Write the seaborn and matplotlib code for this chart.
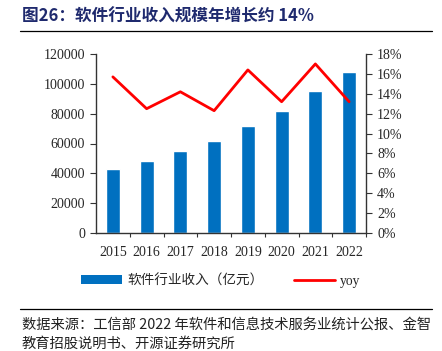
import numpy as np
import pandas as pd
import seaborn as sns
import matplotlib.pyplot as plt
from matplotlib.patches import Patch
from matplotlib.lines import Line2D
from matplotlib.ticker import FuncFormatter, MultipleLocator

### Data ###
years = ['2015', '2016', '2017', '2018', '2019', '2020', '2021', '2022']
revenue = [42848, 48232, 55037, 61909, 71768, 81616, 94994, 108126]  # 亿元
yoy = [15.7, 12.5, 14.2, 12.3, 16.4, 13.2, 17.0, 13.2]  # %

title = '图26：软件行业收入规模年增长约 14%'
source_lines = ['数据来源：工信部 2022 年软件和信息技术服务业统计公报、金智',
                '教育招股说明书、开源证券研究所']

sns.set_style('white')
plt.rcParams['font.family'] = ['Liberation Serif', 'Noto Sans CJK SC', 'DejaVu Sans']
cjk = ['Noto Sans CJK SC', 'DejaVu Sans']
serif_cjk = ['Liberation Serif', 'Noto Sans CJK SC', 'DejaVu Sans']

bar_color = '#0070C0'
line_color = '#FF0000'

df = pd.DataFrame({'year': years, 'revenue': revenue, 'yoy': yoy,
                   'pos': np.arange(len(years))})

fig = plt.figure(figsize=(4.42, 3.51), dpi=100)
ax = fig.add_axes([96 / 442, 1 - 233 / 351, 270 / 442, 179 / 351])

sns.barplot(data=df, x='year', y='revenue', color=bar_color, width=0.41,
            saturation=1, ax=ax)
ax.set_xlim(-0.5, len(years) - 0.5)
ax.set_ylim(0, 120000)
ax.yaxis.set_major_locator(MultipleLocator(20000))
ax.set_xlabel('')
ax.set_ylabel('')

ax2 = ax.twinx()
sns.lineplot(data=df, x='pos', y='yoy', color=line_color, linewidth=2, ax=ax2)
ax2.set_ylim(0, 18)
ax2.yaxis.set_major_locator(MultipleLocator(2))
ax2.yaxis.set_major_formatter(FuncFormatter(lambda v, p: f'{v:.0f}%'))
ax2.set_xlim(-0.5, len(years) - 0.5)
ax2.set_xlabel('')
ax2.set_ylabel('')

for a in (ax, ax2):
    a.spines['top'].set_visible(False)
    for s in ('left', 'right', 'bottom'):
        a.spines[s].set_color('#333333')
        a.spines[s].set_linewidth(1)
ax.spines['right'].set_visible(False)
ax2.spines['left'].set_visible(False)
ax2.spines['bottom'].set_visible(False)

ax.tick_params(axis='y', left=True, direction='out', length=4, width=0.8,
               color='#333333', labelsize=10, pad=4)
ax.tick_params(axis='x', bottom=False, labelsize=10, pad=6)
ax.set_xticks(np.arange(len(years)) + 0.5, minor=True)
ax.tick_params(axis='x', which='minor', bottom=True, direction='out',
               length=3, width=0.8, color='#333333')
ax2.tick_params(axis='y', right=True, direction='out', length=4, width=0.8,
                color='#333333', labelsize=10, pad=4)

# title and rules
fig.text(22 / 442, 1 - 17 / 351, title, fontsize=12, fontweight='bold',
         color='#1f2a6e', family=cjk, va='center', ha='left')
fig.add_artist(Line2D([20 / 442, 432 / 442], [1 - 31 / 351] * 2,
                      color='black', linewidth=0.9))
fig.add_artist(Line2D([20 / 442, 432 / 442], [1 - 309 / 351] * 2,
                      color='black', linewidth=0.9))

# legend
handles = [Patch(facecolor=bar_color, edgecolor='none'),
           Line2D([], [], color=line_color, linewidth=2)]
leg = fig.legend(handles, ['软件行业收入（亿元）', 'yoy'], loc='center',
                 bbox_to_anchor=(0.5, 1 - 281 / 351), ncol=2, frameon=False,
                 handlelength=3, handleheight=0.6, columnspacing=2.2,
                 handletextpad=0.4, prop={'family': serif_cjk, 'size': 9.8})

# source
fig.text(22 / 442, 1 - 325 / 351, source_lines[0], fontsize=10.3,
         family=cjk, color='#222222', va='center', ha='left')
fig.text(22 / 442, 1 - 344 / 351, source_lines[1], fontsize=10.3,
         family=cjk, color='#222222', va='center', ha='left')

fig.savefig('out.png', dpi=100)
